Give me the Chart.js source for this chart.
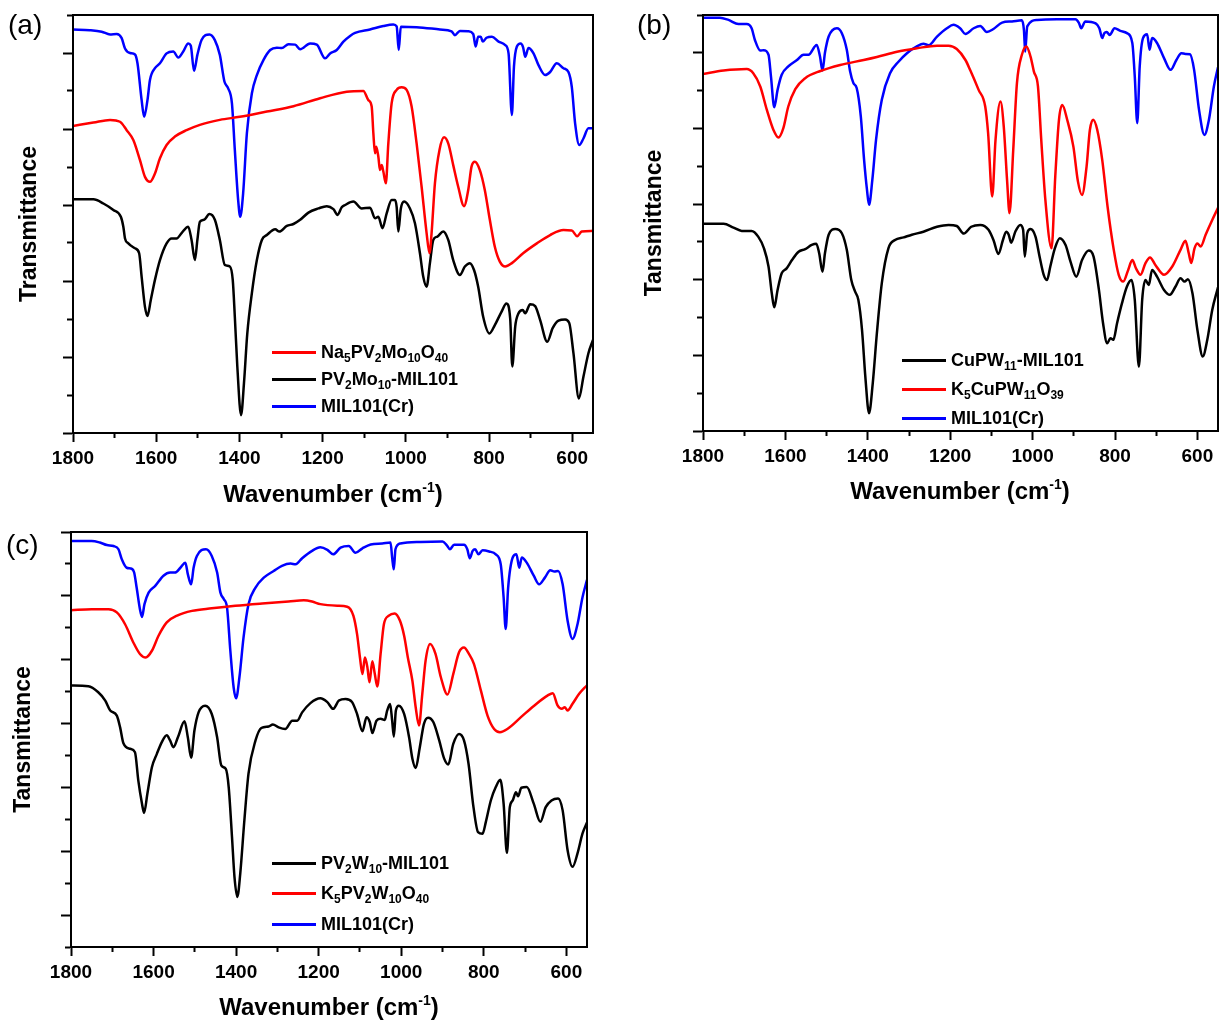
<!DOCTYPE html>
<html>
<head>
<meta charset="utf-8">
<script src="https://cdn.jsdelivr.net/npm/chart.js"></script>
<style>
body { margin: 0; background: #fff; width: 1225px; height: 1023px; position: relative; overflow: hidden;
       font-family: "Liberation Sans", Arial, Helvetica, sans-serif; color: #000; }
canvas { position: absolute; }
.lab { position: absolute; font-size: 28px; line-height: 32px; }
.xt { position: absolute; width: 400px; text-align: center; font-size: 24px; line-height: 28px; font-weight: bold; }
.xt sup { font-size: 14px; line-height: 0; vertical-align: 10px; }
.row { position: absolute; height: 20px; line-height: 20px; font-size: 18px; font-weight: bold; white-space: nowrap; }
.row sub { font-size: 12px; line-height: 0; vertical-align: -4px; }
.row i { position: absolute; left: 0; top: 9px; width: 44px; height: 2.5px; }
.row span { position: absolute; left: 49px; top: 0; }
</style>
</head>
<body>
<canvas id="ca" width="610" height="520" style="left:0;top:0"></canvas>
<canvas id="cb" width="605" height="520" style="left:620px;top:0"></canvas>
<canvas id="cc" width="610" height="503" style="left:0;top:520px"></canvas>

<div class="lab" style="left:8px;top:9px">(a)</div>
<div class="lab" style="left:637px;top:9px">(b)</div>
<div class="lab" style="left:6px;top:529px">(c)</div>

<div class="xt" style="left:133px;top:480px">Wavenumber (cm<sup>-1</sup>)</div>
<div class="xt" style="left:760px;top:477px">Wavenumber (cm<sup>-1</sup>)</div>
<div class="xt" style="left:129px;top:993px">Wavenumber (cm<sup>-1</sup>)</div>

<script>
const FONT = '"Liberation Sans", Arial, Helvetica, sans-serif';
const RED = '#ff0000', BLACK = '#000000', BLUE = '#0000ff';

// ---- panel (a) : [wavenumber, transmittance (tick units)] ----
const aMil = [[1800,10.62],[1760,10.6],[1731,10.56],[1711,10.49],[1695,10.5],[1683,10.39],[1675,10.12],[1663,10.0],[1651,9.96],[1645,9.73],[1635,8.76],[1629,8.32],[1621,8.76],[1615,9.29],[1603,9.6],[1591,9.73],[1575,9.99],[1559,10.04],[1547,9.88],[1535,10.04],[1523,10.25],[1517,10.2],[1509,9.53],[1501,9.95],[1491,10.34],[1472,10.49],[1459,10.34],[1447,9.95],[1436,9.25],[1427,9.07],[1418,8.68],[1411,7.45],[1403,6.13],[1398,5.69],[1391,6.31],[1382,7.89],[1370,8.94],[1358,9.42],[1342,9.82],[1326,10.08],[1310,10.14],[1298,10.13],[1282,10.23],[1266,10.22],[1254,10.1],[1230,10.25],[1214,10.22],[1194,9.86],[1182,9.99],[1166,10.08],[1150,10.3],[1134,10.45],[1122,10.53],[1086,10.62],[1054,10.71],[1030,10.75],[1022,10.7],[1017,10.08],[1012,10.69],[974,10.68],[918,10.62],[890,10.57],[882,10.47],[870,10.58],[850,10.57],[838,10.5],[832,10.17],[826,10.43],[820,10.43],[815,10.3],[806,10.4],[793,10.43],[777,10.3],[761,10.21],[753,9.99],[745,8.37],[740,9.64],[733,10.17],[724,10.25],[718,10.15],[713,9.9],[705,10.13],[693,9.99],[681,9.68],[665,9.42],[653,9.5],[637,9.73],[621,9.6],[609,9.5],[601,9.11],[593,8.15],[583,7.58],[573,7.75],[561,8.02],[550,8.02]];
const aNa = [[1800,8.08],[1751,8.17],[1711,8.24],[1687,8.19],[1671,7.97],[1655,7.71],[1639,7.18],[1627,6.74],[1615,6.61],[1603,6.83],[1591,7.23],[1575,7.58],[1555,7.8],[1527,7.97],[1495,8.11],[1447,8.24],[1399,8.32],[1334,8.46],[1270,8.6],[1206,8.81],[1142,8.98],[1102,9.0],[1090,8.76],[1082,8.59],[1078,7.89],[1074,7.36],[1071,7.53],[1066,7.27],[1062,6.92],[1058,7.05],[1054,6.88],[1048,6.57],[1042,7.62],[1034,8.68],[1022,9.03],[1010,9.1],[998,9.03],[986,8.59],[974,7.62],[962,6.48],[950,5.26],[943,4.73],[938,5.26],[930,6.57],[919,7.45],[908,7.78],[898,7.62],[886,7.05],[874,6.48],[860,5.97],[850,6.39],[842,7.01],[834,7.14],[822,6.92],[810,6.39],[798,5.61],[786,4.9],[774,4.51],[761,4.38],[745,4.47],[718,4.73],[685,4.99],[653,5.21],[621,5.34],[601,5.33],[588,5.18],[577,5.3],[550,5.32]];
const aPv = [[1800,6.15],[1751,6.15],[1727,6.04],[1703,5.87],[1685,5.69],[1679,5.43],[1675,5.12],[1667,4.99],[1651,4.86],[1641,4.73],[1635,4.11],[1627,3.32],[1621,3.08],[1613,3.5],[1603,4.03],[1591,4.55],[1575,4.99],[1563,5.12],[1551,5.12],[1539,5.26],[1523,5.43],[1515,5.08],[1507,4.55],[1501,5.08],[1495,5.56],[1485,5.61],[1472,5.76],[1459,5.61],[1447,5.08],[1435,4.42],[1423,4.38],[1416,4.03],[1411,3.06],[1405,1.75],[1396,0.47],[1389,1.31],[1381,2.62],[1370,3.68],[1358,4.55],[1346,5.08],[1334,5.21],[1314,5.36],[1304,5.3],[1286,5.45],[1270,5.5],[1254,5.61],[1234,5.8],[1210,5.91],[1190,5.97],[1174,5.89],[1164,5.74],[1154,5.94],[1146,6.0],[1126,6.09],[1106,5.91],[1086,5.93],[1074,5.65],[1066,5.69],[1056,5.39],[1046,5.78],[1034,6.13],[1026,6.13],[1022,5.95],[1018,5.3],[1012,5.9],[1004,6.09],[990,5.91],[978,5.52],[966,4.73],[958,4.11],[950,3.85],[942,4.47],[934,5.08],[924,5.17],[910,5.3],[898,5.08],[886,4.55],[870,4.16],[858,4.38],[846,4.47],[836,4.29],[826,3.85],[814,3.06],[799,2.62],[786,2.84],[770,3.19],[758,3.41],[749,3.0],[744,1.75],[737,2.8],[729,3.15],[719,3.24],[713,3.15],[701,3.39],[689,3.34],[677,2.97],[660,2.4],[647,2.76],[633,2.96],[617,2.99],[607,2.89],[597,2.1],[584,0.91],[573,1.48],[561,2.1],[550,2.45]];

// ---- panel (b) ----
const bMil = [[1800,10.93],[1759,10.93],[1738,10.87],[1714,10.76],[1694,10.76],[1682,10.65],[1674,10.34],[1661,10.06],[1653,10.07],[1641,9.95],[1635,9.37],[1627,8.56],[1619,9.02],[1609,9.42],[1593,9.64],[1572,9.81],[1556,9.95],[1544,9.95],[1524,10.21],[1516,9.9],[1510,9.53],[1504,10.0],[1495,10.43],[1475,10.65],[1463,10.52],[1451,10.08],[1443,9.51],[1435,9.2],[1427,9.07],[1417,8.32],[1409,7.17],[1402,6.38],[1397,5.98],[1389,6.64],[1380,7.7],[1366,8.76],[1346,9.46],[1325,9.77],[1305,9.99],[1281,10.17],[1265,10.24],[1252,10.2],[1232,10.43],[1208,10.65],[1192,10.74],[1176,10.65],[1163,10.5],[1143,10.65],[1127,10.71],[1111,10.55],[1095,10.63],[1074,10.8],[1050,10.83],[1026,10.86],[1021,10.6],[1018,10.03],[1013,10.7],[989,10.87],[941,10.89],[896,10.89],[888,10.8],[882,10.65],[872,10.83],[847,10.78],[838,10.65],[831,10.39],[826,10.52],[820,10.55],[813,10.47],[801,10.65],[787,10.58],[771,10.52],[758,10.26],[752,9.37],[746,8.14],[740,9.64],[732,10.39],[722,10.49],[716,10.08],[710,10.39],[698,10.26],[681,9.86],[665,9.55],[651,9.81],[639,9.99],[629,9.97],[618,9.96],[608,9.55],[596,8.49],[583,7.83],[572,8.23],[560,9.11],[550,9.62]];
const bK = [[1800,9.44],[1750,9.53],[1694,9.57],[1678,9.46],[1661,9.11],[1645,8.49],[1629,7.96],[1617,7.76],[1605,8.01],[1593,8.58],[1576,9.04],[1552,9.33],[1515,9.52],[1467,9.68],[1410,9.81],[1378,9.89],[1329,10.03],[1281,10.12],[1232,10.19],[1204,10.19],[1184,10.1],[1163,9.81],[1151,9.53],[1131,9.02],[1115,8.58],[1108,7.88],[1098,6.2],[1090,7.7],[1078,8.71],[1070,8.05],[1062,6.64],[1056,5.76],[1047,7.43],[1038,9.2],[1026,9.95],[1015,10.17],[1005,9.9],[997,9.51],[987,9.11],[979,7.7],[969,6.11],[954,4.83],[945,6.73],[936,8.23],[928,8.62],[916,8.23],[901,7.52],[890,6.6],[880,6.24],[869,6.99],[861,7.96],[853,8.23],[843,7.96],[831,7.17],[818,5.93],[803,4.79],[791,4.13],[780,3.95],[768,4.26],[758,4.52],[749,4.3],[738,4.13],[726,4.44],[715,4.59],[702,4.39],[681,4.13],[661,4.35],[641,4.79],[629,5.03],[621,4.7],[615,4.44],[607,4.83],[600,4.96],[592,4.88],[580,5.19],[564,5.58],[550,5.9]];
const bCu = [[1800,5.48],[1750,5.48],[1726,5.38],[1706,5.29],[1682,5.29],[1666,5.14],[1652,4.83],[1641,4.35],[1633,3.64],[1627,3.27],[1619,3.73],[1609,4.17],[1597,4.3],[1584,4.52],[1568,4.74],[1552,4.81],[1536,4.92],[1525,4.95],[1518,4.7],[1510,4.21],[1504,4.7],[1495,5.19],[1479,5.34],[1463,5.23],[1451,4.79],[1440,3.99],[1431,3.69],[1423,3.47],[1414,2.67],[1406,1.44],[1397,0.47],[1388,1.26],[1378,2.58],[1366,3.91],[1350,4.83],[1334,5.05],[1313,5.12],[1293,5.19],[1265,5.27],[1232,5.4],[1204,5.45],[1184,5.42],[1167,5.22],[1149,5.4],[1127,5.45],[1107,5.32],[1095,5.05],[1083,4.68],[1072,5.05],[1064,5.27],[1058,5.19],[1052,4.98],[1042,5.27],[1030,5.45],[1023,5.32],[1019,4.61],[1013,5.23],[1005,5.34],[993,5.14],[983,4.61],[973,4.13],[965,3.99],[957,4.35],[946,4.83],[934,5.1],[920,4.92],[908,4.48],[894,4.08],[880,4.52],[864,4.77],[852,4.61],[839,3.73],[829,2.85],[819,2.32],[811,2.45],[804,2.41],[795,2.85],[783,3.38],[771,3.82],[760,3.99],[752,3.47],[742,1.7],[734,3.47],[726,3.99],[718,3.86],[710,4.26],[698,4.08],[681,3.73],[667,3.6],[653,3.82],[641,4.04],[631,3.95],[623,4.01],[612,3.64],[600,2.67],[587,1.97],[576,2.41],[564,3.2],[550,3.8]];

// ---- panel (c) ----
const cMil = [[1800,12.72],[1750,12.72],[1730,12.67],[1713,12.59],[1697,12.56],[1685,12.46],[1677,12.15],[1665,11.88],[1653,11.85],[1647,11.73],[1641,11.26],[1633,10.58],[1628,10.34],[1622,10.74],[1612,11.1],[1596,11.31],[1576,11.63],[1560,11.73],[1548,11.73],[1535,11.88],[1523,12.04],[1517,11.68],[1509,11.36],[1503,11.88],[1495,12.25],[1473,12.46],[1459,12.25],[1446,11.73],[1438,11.1],[1430,10.9],[1422,10.63],[1414,9.28],[1406,8.13],[1400,7.79],[1392,8.45],[1382,9.7],[1370,10.74],[1353,11.26],[1333,11.57],[1309,11.78],[1289,11.94],[1268,12.01],[1256,11.99],[1240,12.18],[1216,12.41],[1196,12.52],[1179,12.44],[1165,12.3],[1147,12.51],[1127,12.56],[1111,12.35],[1094,12.49],[1074,12.61],[1046,12.64],[1026,12.67],[1022,12.2],[1018,11.83],[1014,12.46],[1002,12.64],[953,12.69],[900,12.7],[890,12.59],[882,12.46],[872,12.6],[848,12.6],[840,12.46],[834,12.18],[827,12.41],[821,12.46],[813,12.3],[803,12.43],[787,12.39],[771,12.3],[759,11.99],[752,10.95],[747,9.96],[741,11.26],[730,12.2],[721,12.3],[714,11.88],[708,12.2],[696,12.04],[679,11.63],[666,11.36],[652,11.57],[639,11.8],[629,11.76],[620,11.78],[609,11.36],[597,10.22],[585,9.65],[573,10.11],[561,10.95],[550,11.5]];
const cK = [[1800,10.55],[1750,10.58],[1709,10.58],[1689,10.48],[1669,10.11],[1649,9.54],[1633,9.18],[1619,9.07],[1604,9.28],[1588,9.75],[1568,10.17],[1543,10.38],[1507,10.53],[1459,10.61],[1402,10.69],[1337,10.76],[1273,10.82],[1236,10.86],[1216,10.82],[1196,10.74],[1155,10.69],[1131,10.66],[1116,10.38],[1107,9.8],[1100,9.07],[1094,8.55],[1088,9.07],[1082,8.76],[1077,8.29],[1070,8.95],[1064,8.55],[1058,8.16],[1050,9.18],[1042,10.11],[1030,10.38],[1016,10.45],[1003,10.22],[993,9.75],[984,9.07],[973,8.34],[965,7.51],[957,6.94],[949,7.93],[941,8.97],[930,9.49],[917,9.18],[904,8.45],[888,7.91],[874,8.55],[860,9.23],[848,9.38],[836,9.18],[824,8.87],[807,8.03],[791,7.25],[775,6.83],[761,6.73],[743,6.83],[710,7.2],[678,7.56],[645,7.88],[633,7.95],[621,7.56],[611,7.46],[604,7.51],[597,7.41],[585,7.62],[569,7.93],[550,8.2]];
const cPv = [[1800,8.19],[1758,8.17],[1734,7.98],[1717,7.72],[1705,7.41],[1689,7.25],[1681,6.88],[1673,6.38],[1657,6.21],[1645,6.1],[1637,5.22],[1628,4.49],[1623,4.2],[1615,4.8],[1604,5.63],[1592,6.05],[1580,6.42],[1568,6.63],[1560,6.47],[1552,6.26],[1541,6.57],[1525,7.07],[1517,6.57],[1509,5.93],[1501,6.78],[1491,7.35],[1475,7.56],[1459,7.3],[1446,6.57],[1436,5.69],[1425,5.58],[1418,5.01],[1410,3.45],[1404,2.2],[1397,1.57],[1390,2.3],[1380,3.97],[1370,5.43],[1353,6.47],[1339,6.86],[1321,6.91],[1311,6.97],[1297,6.88],[1281,6.83],[1264,7.09],[1252,7.09],[1240,7.35],[1220,7.64],[1196,7.79],[1179,7.67],[1165,7.46],[1151,7.72],[1135,7.77],[1119,7.67],[1107,7.3],[1094,6.76],[1084,7.2],[1076,7.04],[1070,6.7],[1060,7.09],[1050,7.15],[1040,7.11],[1034,7.41],[1027,7.61],[1022,7.09],[1018,6.59],[1013,7.41],[1006,7.56],[993,7.3],[981,6.57],[973,5.9],[965,5.61],[955,6.26],[945,6.99],[935,7.18],[922,7.04],[908,6.47],[896,5.9],[886,5.72],[874,6.36],[860,6.67],[848,6.47],[837,5.74],[825,4.38],[814,3.6],[803,3.55],[795,3.92],[783,4.59],[771,5.01],[760,5.24],[752,4.49],[744,2.95],[737,4.38],[730,4.59],[722,4.85],[717,4.72],[709,4.99],[696,5.01],[679,4.49],[663,3.92],[650,4.38],[636,4.59],[620,4.65],[609,4.28],[597,3.03],[585,2.51],[573,2.93],[561,3.55],[550,3.9]];

// legend labels (html for subscripts)
const aLabels = ['Na<sub>5</sub>PV<sub>2</sub>Mo<sub>10</sub>O<sub>40</sub>', 'PV<sub>2</sub>Mo<sub>10</sub>-MIL101', 'MIL101(Cr)'];
const bLabels = ['CuPW<sub>11</sub>-MIL101', 'K<sub>5</sub>CuPW<sub>11</sub>O<sub>39</sub>', 'MIL101(Cr)'];
const cLabels = ['PV<sub>2</sub>W<sub>10</sub>-MIL101', 'K<sub>5</sub>PV<sub>2</sub>W<sub>10</sub>O<sub>40</sub>', 'MIL101(Cr)'];

const frame = {
  id: 'frame',
  afterDraw(chart) {
    const a = chart.chartArea, ctx = chart.ctx;
    ctx.save();
    ctx.strokeStyle = '#000';
    ctx.lineWidth = 2;
    ctx.strokeRect(a.left, a.top, a.right - a.left, a.bottom - a.top);
    ctx.restore();
  }
};

function pts(arr) {
  return arr.map(p => ({x: p[0], y: p[1]}));
}

function panel(id, o) {
  const minorY = c => c.tick ? ((c.tick.value % 2 === 0) !== o.evenMajor) : false;
  const minorX = c => c.tick ? (c.tick.value % 200 !== 0) : false;
  return new Chart(document.getElementById(id), {
    type: 'line',
    data: {
      datasets: o.series.map(s => ({
        label: s.label.replace(/<[^>]+>/g, ''),
        data: pts(s.data),
        borderColor: s.color,
        borderWidth: 2.5,
        pointRadius: 0,
        fill: false,
        cubicInterpolationMode: 'monotone'
      }))
    },
    options: {
      responsive: false,
      animation: false,
      devicePixelRatio: 1,
      layout: {padding: {left: 0, top: o.padTop, right: o.padRight, bottom: 0}},
      plugins: {legend: {display: false}, tooltip: {enabled: false}},
      scales: {
        x: {
          type: 'linear', reverse: true, min: 550, max: 1800,
          afterFit: s => { s.height = o.xH; },
          ticks: {
            stepSize: 100, includeBounds: false, autoSkip: false, maxRotation: 0, minRotation: 0,
            padding: 5, color: '#000', font: {family: FONT, size: 19, weight: 'bold'},
            callback: v => v % 200 === 0 ? String(v) : ''
          },
          grid: {
            drawOnChartArea: false, tickLength: 9, tickWidth: 2, tickColor: '#000',
            tickBorderDash: c => minorX(c) ? [4, 60] : []
          },
          border: {display: true, width: 2, color: '#000'}
        },
        y: {
          min: 0, max: o.yMax,
          afterFit: s => { s.width = o.yW; },
          ticks: {display: false, stepSize: 1},
          grid: {
            drawOnChartArea: false, tickLength: 10, tickWidth: 2, tickColor: '#000',
            tickBorderDash: c => minorY(c) ? [5, 60] : [],
            tickBorderDashOffset: c => minorY(c) ? 61 : 0
          },
          border: {display: true, width: 2, color: '#000'},
          title: {
            display: true, text: o.yTitle, color: '#000',
            font: {family: FONT, size: 23, weight: 'bold'},
            padding: {top: o.yTitlePad, bottom: 0}
          }
        }
      }
    },
    plugins: [frame]
  });
}

function legend(x, ys, items) {
  items.forEach((it, i) => {
    const row = document.createElement('div');
    row.className = 'row';
    row.style.left = x + 'px';
    row.style.top = (ys[i] - 10) + 'px';
    row.innerHTML = '<i style="background:' + it[1] + '"></i><span>' + it[0] + '</span>';
    document.body.appendChild(row);
  });
}

panel('ca', {
  padTop: 15, padRight: 17, yW: 73, xH: 87, yMax: 11, evenMajor: true,
  yTitle: 'Transmittance', yTitlePad: 16,
  series: [
    {label: aLabels[0], data: aNa, color: RED},
    {label: aLabels[1], data: aPv, color: BLACK},
    {label: aLabels[2], data: aMil, color: BLUE}
  ]
});
panel('cb', {
  padTop: 15, padRight: 7, yW: 83, xH: 89, yMax: 11, evenMajor: true,
  yTitle: 'Tansmittance', yTitlePad: 21,
  series: [
    {label: bLabels[1], data: bK, color: RED},
    {label: bLabels[0], data: bCu, color: BLACK},
    {label: bLabels[2], data: bMil, color: BLUE}
  ]
});
panel('cc', {
  padTop: 12, padRight: 23, yW: 71, xH: 76, yMax: 13, evenMajor: false,
  yTitle: 'Tansmittance', yTitlePad: 10,
  series: [
    {label: cLabels[1], data: cK, color: RED},
    {label: cLabels[0], data: cPv, color: BLACK},
    {label: cLabels[2], data: cMil, color: BLUE}
  ]
});

legend(272, [352, 379, 406], [[aLabels[0], RED], [aLabels[1], BLACK], [aLabels[2], BLUE]]);
legend(902, [360, 389, 418], [[bLabels[0], BLACK], [bLabels[1], RED], [bLabels[2], BLUE]]);
legend(272, [863, 893, 924], [[cLabels[0], BLACK], [cLabels[1], RED], [cLabels[2], BLUE]]);
</script>
</body>
</html>
